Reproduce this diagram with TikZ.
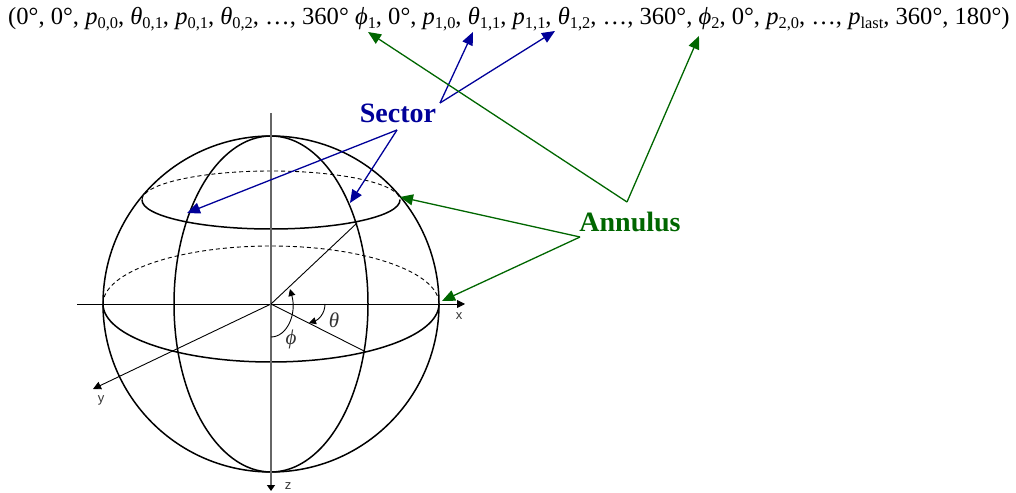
\documentclass[tikz,border=0pt]{standalone}
\usepackage{fontspec}
\setmainfont{Liberation Serif}
\setsansfont{Liberation Sans}
\usetikzlibrary{arrows.meta}
\definecolor{sectorblue}{RGB}{0,0,153}
\definecolor{annulusgreen}{RGB}{0,102,0}
\newcommand{\ang}[1]{\textit{#1}}
\newcommand{\subs}[1]{\raisebox{-4pt}{\fontsize{16.4}{16.4}\selectfont #1}}
\tikzset{
    sphereline/.style={black, line width=1.5pt},
    backline/.style={black, line width=0.9pt, dash pattern=on 4pt off 3pt},
    axisline/.style={black, line width=0.9pt, -{Triangle[length=8pt,width=8pt]}},
    thinline/.style={black, line width=0.9pt},
    anglearc/.style={black, line width=0.9pt, -{Triangle[length=7pt,width=7pt]}},
    sectorarrow/.style={sectorblue, line width=1.3pt, -{Triangle[length=13pt,width=11pt]}},
    annulusarrow/.style={annulusgreen, line width=1.3pt, -{Triangle[length=13pt,width=11pt]}},
    axislabel/.style={font=\sffamily\fontsize{13}{15}\selectfont, text=black!80},
    anglelabel/.style={font=\fontsize{21}{24}\selectfont, text=black!80},
    bigword/.style={font=\bfseries\fontsize{28}{30}\selectfont},
}
\begin{document}
\begin{tikzpicture}[x=1pt, y=1pt]
    \useasboundingbox (0,0) rectangle (1016,492);
    % formula line
    \node[anchor=base west, inner sep=0pt, font=\fontsize{24.6}{26}\selectfont] (formula) at (8,467)
        {(0°, 0°, \textit{p}\subs{0,0}, \ang{θ}\subs{0,1}, \textit{p}\subs{0,1}, \ang{θ}\subs{0,2}, …, 360° \ang{ϕ}\subs{1}, 0°, \textit{p}\subs{1,0}, \ang{θ}\subs{1,1}, \textit{p}\subs{1,1}, \ang{θ}\subs{1,2}, …, 360°, \ang{ϕ}\subs{2}, 0°, \textit{p}\subs{2,0}, …, \textit{p}\subs{last}, 360°, 180°)};

    % sphere
    \begin{scope}[shift={(271,188)}]
        \coordinate (center) at (0,0);
        \draw[sphereline] (center) circle (168);
        \draw[sphereline] (center) ellipse (97 and 168);
        % equator
        \draw[sphereline] (-168,0) arc (180:360:168 and 58);
        \draw[backline] (-168,0) arc (180:0:168 and 58);
        % upper circle
        \draw[sphereline] (-129,104) arc (180:360:129 and 29);
        \draw[backline] (-129,104) arc (180:0:129 and 29);

        % axes
        \coordinate (xstart) at (-194,0);
        \coordinate (xend) at (194,0);
        \coordinate (ytip) at (-178,-85);
        \coordinate (ztop) at (0,191);
        \coordinate (zend) at (0,-187);
        \coordinate (upperpoint) at (86,81);
        \coordinate (lowerpoint) at (95,-48);
        \draw[axisline] (xstart) -- (xend);
        \draw[axisline] (center) -- (ytip);
        \draw[black!60, line width=1.4pt, -{Triangle[length=6pt,width=8pt,color=black]}] (ztop) -- (zend);
        \draw[thinline] (center) -- (upperpoint);
        \draw[thinline] (center) -- (lowerpoint);
        \node[axislabel] (xlabel) at (188,-12) {x};
        \node[axislabel] (ylabel) at (-170,-96) {y};
        \node[axislabel] (zlabel) at (17,-182) {z};

        % angles
        \draw[anglearc] (54,0) .. controls (54,-10) and (47,-16) .. (38,-19);
        \draw[anglearc] (0,-33) .. controls (16,-33) and (26,-10) .. (19,15);
        \node[anglelabel] (thetalabel) at (63,-16) {\ang{θ}};
        \node[anglelabel] (philabel) at (20,-35) {\ang{ϕ}};
    \end{scope}

    % labels
    \node[bigword, text=sectorblue] (sector) at (398,379) {Sector};
    \node[bigword, text=annulusgreen] (annulus) at (630,270) {Annulus};

    \coordinate (sectorup) at (440,389);
    \coordinate (sectordown) at (397,362);
    \coordinate (annulusup) at (627,290);
    \coordinate (annulusdown) at (580,255);

    \coordinate (thetaone) at (473,460);
    \coordinate (thetatwo) at (555,461);
    \coordinate (phione) at (368,460);
    \coordinate (phitwo) at (699,456);
    \coordinate (capleft) at (187,279);
    \coordinate (capright) at (350,289);
    \coordinate (capedge) at (400,295);
    \coordinate (equatoredge) at (442,191);

    \draw[sectorarrow] (sectorup) -- (thetaone);
    \draw[sectorarrow] (sectorup) -- (thetatwo);
    \draw[sectorarrow] (sectordown) -- (capleft);
    \draw[sectorarrow] (sectordown) -- (capright);
    \draw[annulusarrow] (annulusup) -- (phione);
    \draw[annulusarrow] (annulusup) -- (phitwo);
    \draw[annulusarrow] (annulusdown) -- (capedge);
    \draw[annulusarrow] (annulusdown) -- (equatoredge);
\end{tikzpicture}
\end{document}
